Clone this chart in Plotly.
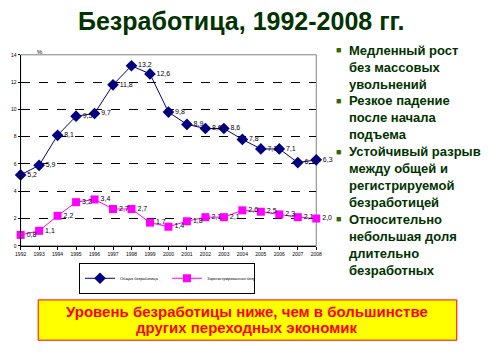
import plotly.graph_objects as go

years = list(range(1992, 2009))
general = [5.2, 5.9, 8.1, 9.5, 9.7, 11.8, 13.2, 12.6, 9.8, 8.9, 8.6, 8.6, 7.8, 7.1, 7.1, 6.1, 6.3]
registered = [0.8, 1.1, 2.2, 3.2, 3.4, 2.7, 2.7, 1.7, 1.4, 1.8, 2.1, 2.1, 2.6, 2.5, 2.3, 2.1, 2.0]
y_ticks = [0, 2, 4, 6, 8, 10, 12, 14]
series_names = ["Общая безработица", "Зарегистрированная безработица"]
title_text = "Безработица, 1992-2008 гг."
bullets = [
    ["Медленный рост", "без массовых", "увольнений"],
    ["Резкое падение", "после начала", "подъема"],
    ["Устойчивый разрыв", "между общей и", "регистрируемой", "безработицей"],
    ["Относительно", "небольшая доля", "длительно", "безработных"],
]
footer = ["Уровень безработицы ниже, чем в большинстве", "других переходных экономик"]

W, H = 493, 355
def px(x):
    return x / W
def py(y):
    return 1 - y / H

def fmt(v):
    return f"{v:.1f}".replace(".", ",")

fig = go.Figure()
fig.add_trace(go.Scatter(
    x=years, y=general, mode="lines+markers+text", name=series_names[0],
    line=dict(color="#000080", width=1),
    marker=dict(symbol="diamond", size=9, color="#000080"),
    text=[fmt(v) for v in general], textposition="middle right",
    textfont=dict(size=7, color="#000000", family="Arial"),
    cliponaxis=False,
))
fig.add_trace(go.Scatter(
    x=years, y=registered, mode="lines+markers+text", name=series_names[1],
    line=dict(color="#FF00FF", width=1),
    marker=dict(symbol="square", size=8, color="#FF00FF"),
    text=[fmt(v) for v in registered], textposition="middle right",
    textfont=dict(size=7, color="#000000", family="Arial"),
    cliponaxis=False,
))

annotations = []
annotations.append(dict(text="<b>" + title_text + "</b>", x=px(241), y=py(18), xref="paper", yref="paper",
                        showarrow=False, xanchor="center", yanchor="middle",
                        font=dict(family="Arial", size=25, color="#003300")))
annotations.append(dict(text="%", x=px(30), y=py(45), xref="paper", yref="paper",
                        showarrow=False, font=dict(family="Arial", size=6, color="#000")))
line_y = 48
for group in bullets:
    for i, line in enumerate(group):
        if i == 0:
            annotations.append(dict(text="■", x=px(341), y=py(line_y), xref="paper", yref="paper",
                                    showarrow=False, xanchor="center", yanchor="middle",
                                    font=dict(family="Arial", size=9, color="#336600")))
        annotations.append(dict(text="<b>" + line + "</b>", x=px(349), y=py(line_y), xref="paper", yref="paper",
                                showarrow=False, xanchor="left", yanchor="middle",
                                font=dict(family="Arial", size=13, color="#003300")))
        line_y += 17.2
annotations.append(dict(text="<b>" + footer[0] + "</b>", x=px(247), y=py(314), xref="paper", yref="paper",
                        showarrow=False, xanchor="center", yanchor="middle",
                        font=dict(family="Arial", size=15, color="#FF0000")))
annotations.append(dict(text="<b>" + footer[1] + "</b>", x=px(247), y=py(330), xref="paper", yref="paper",
                        showarrow=False, xanchor="center", yanchor="middle",
                        font=dict(family="Arial", size=15, color="#FF0000")))

fig.update_layout(
    width=W, height=H, margin=dict(l=0, r=0, t=0, b=0),
    paper_bgcolor="white", plot_bgcolor="white",
    showlegend=True,
    legend=dict(orientation="h", x=px(165), y=py(280), xanchor="center", yanchor="middle",
                bordercolor="#000", borderwidth=1, font=dict(size=4, family="Arial", color="#000"),
                itemwidth=30, itemsizing="trace", entrywidth=42, entrywidthmode="pixels",
                tracegroupgap=0, bgcolor="white"),
    annotations=annotations,
    shapes=[
        dict(type="rect", xref="paper", yref="paper", x0=px(33), x1=px(462), y0=py(302), y1=py(343),
             fillcolor="#FFFF00", line=dict(color="#FF0000", width=1), layer="below"),
        dict(type="rect", xref="paper", yref="paper", x0=px(15), x1=px(318), y0=py(247), y1=py(52.7),
             line=dict(color="#808080", width=1), layer="below"),
    ],
    xaxis=dict(domain=[px(15), px(318)], range=[1992, 2008], tickmode="array", tickvals=years,
               ticktext=[str(y) for y in years], tickfont=dict(size=5, family="Arial", color="#000"),
               showgrid=False, showline=True, linecolor="#000", linewidth=1, ticks="outside",
               ticklen=3, tickcolor="#000", zeroline=False, tickangle=0),
    yaxis=dict(domain=[py(247), py(52.7)], range=[0, 14], tickmode="array", tickvals=y_ticks,
               tickfont=dict(size=5, family="Arial", color="#000"),
               showgrid=True, gridcolor="#000", griddash="dash", gridwidth=1,
               showline=True, linecolor="#000", linewidth=1, ticks="outside", ticklen=2,
               tickcolor="#000", zeroline=False),
)
fig.write_html("out.html")
